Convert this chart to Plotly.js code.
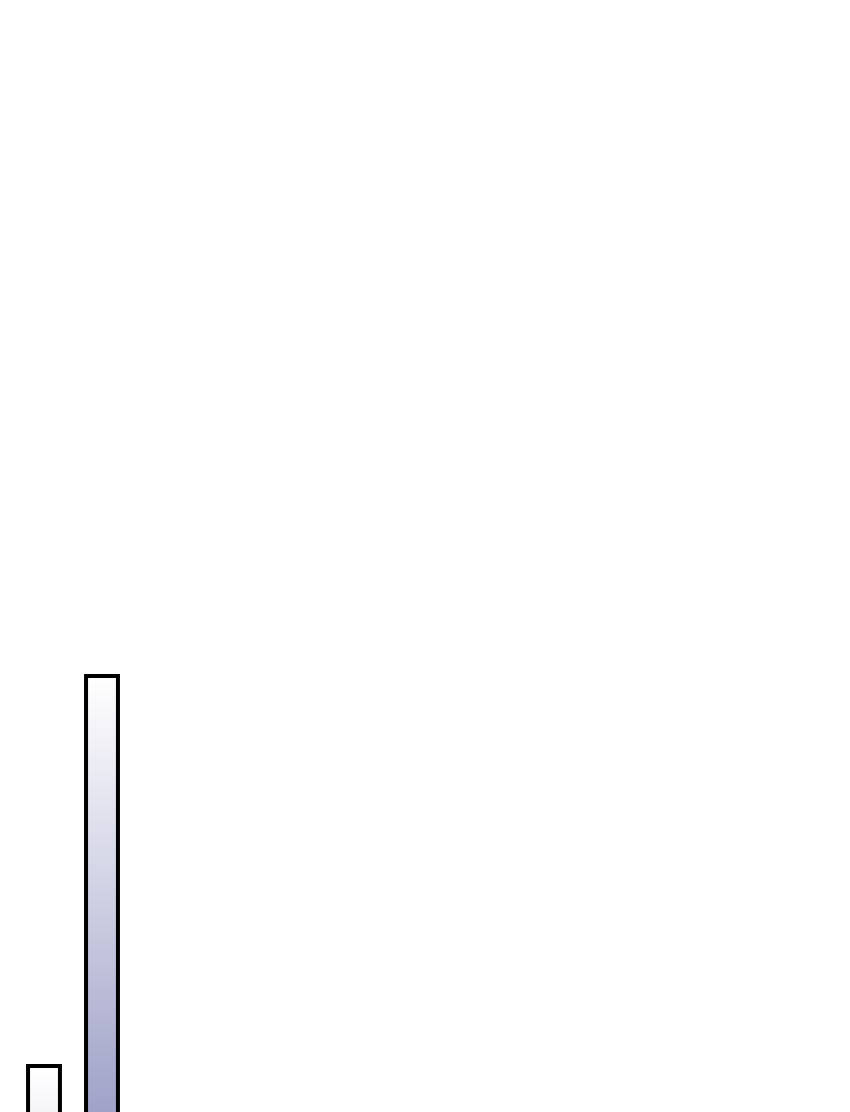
<!DOCTYPE html>
<html>
<head>
<meta charset="utf-8">
<script src="https://cdn.plot.ly/plotly-3.0.1.min.js"></script>
<style>
html, body { margin: 0; padding: 0; background: #ffffff; overflow: hidden; }
#chart { width: 850px; height: 1112px; }
</style>
</head>
<body>
<div id="chart"></div>
<script>
// Data (only two bars are visible in the frame)
const categories = [0, 1];
const values = [23, 100];

const barWidth = 0.55;
const gradientLength = 118.5; // data units over which the fill goes from white to blue
const baseValue = 0;

const traces = categories.map(function (c, i) {
  const v = values[i];
  const x0 = c - barWidth / 2, x1 = c + barWidth / 2;
  return {
    type: 'scatter',
    mode: 'lines',
    x: [x0, x0, x1, x1, x0],
    y: [baseValue, v, v, baseValue, baseValue],
    fill: 'toself',
    fillgradient: {
      type: 'vertical',
      start: v - gradientLength,
      stop: v,
      colorscale: [[0, '#7c7fb3'], [1, '#ffffff']]
    },
    line: { color: '#000000', width: 4 },
    hoverinfo: 'skip',
    showlegend: false
  };
});

const layout = {
  width: 850,
  height: 1112,
  margin: { l: 0, r: 0, t: 0, b: 0, pad: 0 },
  paper_bgcolor: '#ffffff',
  plot_bgcolor: '#ffffff',
  showlegend: false,
  xaxis: { range: [-0.7586, 13.897], visible: false, fixedrange: true },
  yaxis: { range: [13.92, 233.46], visible: false, fixedrange: true }
};

Plotly.newPlot('chart', traces, layout, { displayModeBar: false, staticPlot: true });
</script>
</body>
</html>
